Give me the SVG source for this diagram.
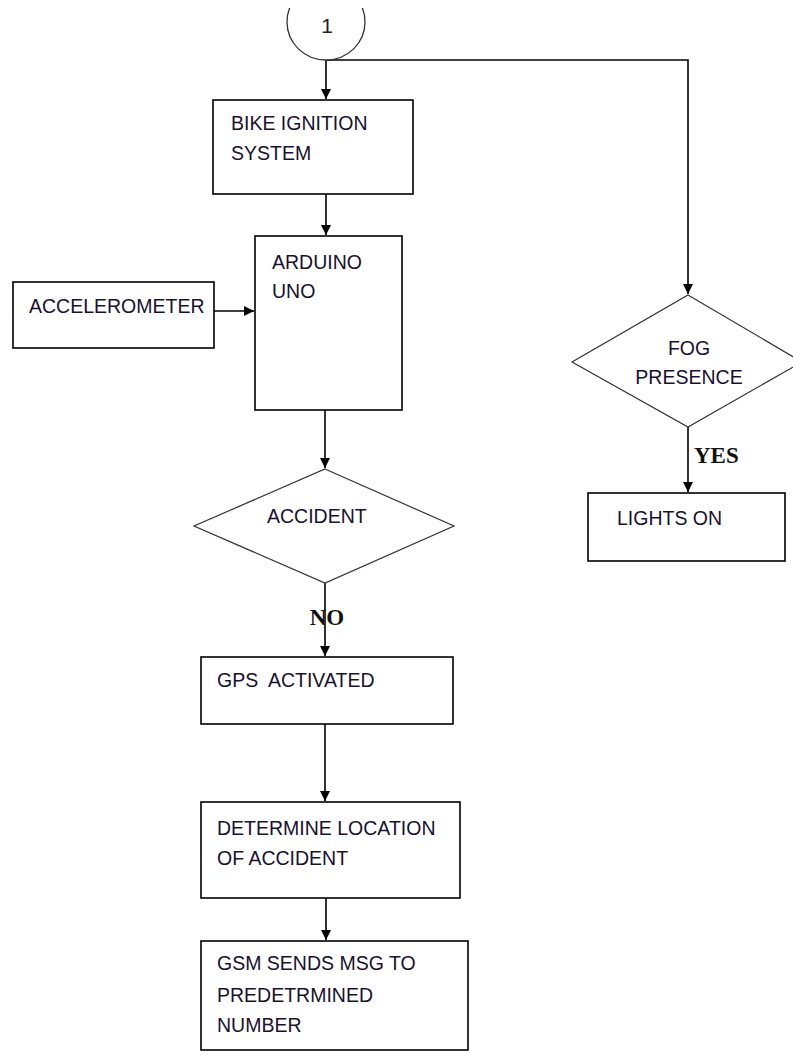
<svg xmlns="http://www.w3.org/2000/svg" width="793" height="1055" viewBox="0 0 793 1055">
<style>
.box{fill:#fff;stroke:#000;stroke-width:1.6}
.dia{fill:#fff;stroke:#333;stroke-width:1.2}
.t{font-family:"Liberation Sans",Arial,sans-serif;font-size:19.5px;fill:#1a1030}
.lbl{font-family:"Liberation Serif","Times New Roman",serif;font-size:23px;font-weight:bold;fill:#111}
.c{fill:none;stroke:#000;stroke-width:1.6}
</style>
<defs>
<marker id="ah" viewBox="0 0 10 10" refX="10" refY="5" markerWidth="10" markerHeight="10" markerUnits="userSpaceOnUse" orient="auto">
<path d="M0,0 L10,5 L0,10 Z" fill="#000"/>
</marker>
<clipPath id="topclip"><rect x="0" y="8" width="793" height="100"/></clipPath>
</defs>
<rect width="793" height="1055" fill="#fff"/>
<g id="connectors">
<path class="c" d="M326,60 V99" marker-end="url(#ah)"/>
<path class="c" d="M326,60 H688 V294" marker-end="url(#ah)"/>
<path class="c" d="M326,194 V235" marker-end="url(#ah)"/>
<path class="c" d="M214,311 H254" marker-end="url(#ah)"/>
<path class="c" d="M325,410 V468" marker-end="url(#ah)"/>
<path class="c" d="M325,583 V656" marker-end="url(#ah)"/>
<path class="c" d="M325,724 V801" marker-end="url(#ah)"/>
<path class="c" d="M326,898 V940" marker-end="url(#ah)"/>
<path class="c" d="M688,427 V492" marker-end="url(#ah)"/>
</g>
<g id="start">
<ellipse cx="326" cy="22" rx="39" ry="38" fill="#fff" stroke="#333" stroke-width="1.3" clip-path="url(#topclip)"/>
<text x="327" y="33" text-anchor="middle" font-family="Liberation Sans, Arial, sans-serif" font-size="21" fill="#222">1</text>
</g>
<g id="bike">
<rect class="box" x="213" y="100" width="200" height="94"/>
<text class="t" x="231" y="130">BIKE IGNITION</text>
<text class="t" x="231" y="160">SYSTEM</text>
</g>
<g id="arduino">
<rect class="box" x="255" y="236" width="147" height="174"/>
<text class="t" x="272" y="269">ARDUINO</text>
<text class="t" x="272" y="298">UNO</text>
</g>
<g id="accelerometer">
<rect class="box" x="13" y="282" width="201" height="66"/>
<text class="t" x="29" y="313">ACCELEROMETER</text>
</g>
<g id="accident">
<polygon class="dia" points="325,469 454,526 325,583 194,526"/>
<text class="t" x="267" y="523">ACCIDENT</text>
</g>
<text class="lbl" x="327" y="625" text-anchor="middle">NO</text>
<g id="gps">
<rect class="box" x="201" y="657" width="252" height="67"/>
<text class="t" x="217" y="687" xml:space="preserve">GPS  ACTIVATED</text>
</g>
<g id="determine">
<rect class="box" x="201" y="802" width="259" height="96"/>
<text class="t" x="217" y="835">DETERMINE LOCATION</text>
<text class="t" x="217" y="865">OF ACCIDENT</text>
</g>
<g id="gsm">
<rect class="box" x="201" y="941" width="267" height="109"/>
<text class="t" x="217" y="970">GSM SENDS MSG TO</text>
<text class="t" x="217" y="1002">PREDETRMINED</text>
<text class="t" x="217" y="1032">NUMBER</text>
</g>
<g id="fog">
<polygon class="dia" points="688,295 802,362 688,427 572,362"/>
<text class="t" x="689" y="355" text-anchor="middle">FOG</text>
<text class="t" x="689" y="384" text-anchor="middle">PRESENCE</text>
</g>
<text class="lbl" x="694" y="463">YES</text>
<g id="lights">
<rect class="box" x="588" y="493" width="197" height="68"/>
<text class="t" x="617" y="525">LIGHTS ON</text>
</g>
</svg>
